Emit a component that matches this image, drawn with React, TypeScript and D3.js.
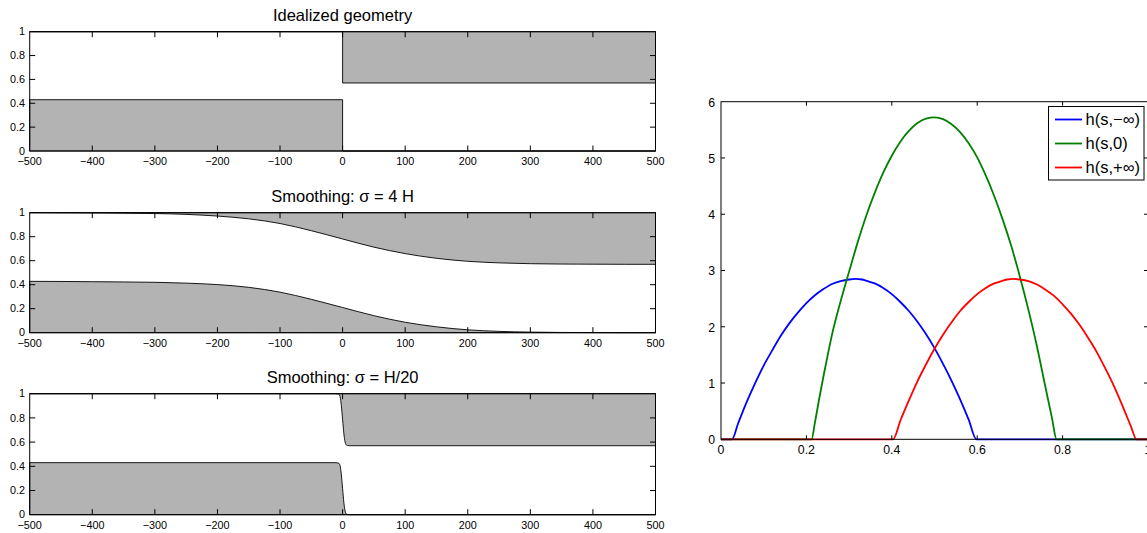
import React from "react";
import * as d3 from "d3";

// ---------- data: left panels (geometry) ----------
const X_TICKS_L = [-500, -400, -300, -200, -100, 0, 100, 200, 300, 400, 500];
const Y_TICKS_L = [0, 0.2, 0.4, 0.6, 0.8, 1];

const IDEAL_X = [-500, 0, 0, 500];
const IDEAL_LOWER = [0.43, 0.43, 0, 0];
const IDEAL_UPPER = [1, 1, 0.57, 0.57];

const S4_X = [-500, -450, -400, -350, -300, -250, -200, -150, -100, -50, 0, 50, 100, 150, 200, 250, 300, 350, 400, 450, 500];
const S4_LOWER = [0.428, 0.427, 0.425, 0.423, 0.42, 0.413, 0.401, 0.378, 0.338, 0.278, 0.21, 0.142, 0.087, 0.049, 0.024, 0.011, 0.005, 0.002, 0.001, 0, 0];
const S4_UPPER = [1.0, 0.999, 0.998, 0.996, 0.993, 0.986, 0.972, 0.949, 0.91, 0.85, 0.781, 0.713, 0.659, 0.62, 0.595, 0.582, 0.575, 0.572, 0.571, 0.57, 0.57];

const S20_X = [-500, -12, -8, -6, -4, -2, 0, 2, 4, 6, 8, 12, 500];
const S20_LOWER = [0.43, 0.43, 0.428, 0.425, 0.405, 0.33, 0.215, 0.1, 0.03, 0.006, 0.002, 0, 0];
const S20_UPPER = [1, 1, 0.998, 0.995, 0.975, 0.9, 0.785, 0.67, 0.6, 0.576, 0.571, 0.57, 0.57];

const PANEL_TITLES = ["Idealized geometry", "Smoothing: σ = 4 H", "Smoothing: σ = H/20"];

// ---------- data: right panel ----------
const X_TICKS_R = [0, 0.2, 0.4, 0.6, 0.8, 1];
const Y_TICKS_R = [0, 1, 2, 3, 4, 5, 6];

const BLUE_S = [0, 0.0257, 0.04, 0.06, 0.08, 0.1, 0.12, 0.14, 0.16, 0.18, 0.2, 0.22, 0.24, 0.26, 0.28, 0.3, 0.315, 0.33, 0.34, 0.36, 0.38, 0.4, 0.42, 0.44, 0.46, 0.48, 0.5, 0.52, 0.54, 0.56, 0.58, 0.598, 1];
const BLUE_H = [0, 0, 0.28, 0.66, 1.0, 1.31, 1.58, 1.84, 2.06, 2.25, 2.42, 2.56, 2.67, 2.76, 2.81, 2.84, 2.85, 2.84, 2.82, 2.77, 2.69, 2.58, 2.44, 2.28, 2.09, 1.87, 1.62, 1.34, 1.04, 0.71, 0.35, 0, 0];

const GREEN_S = [0, 0.212, 0.22, 0.23, 0.24, 0.25, 0.26, 0.28, 0.3, 0.32, 0.34, 0.36, 0.38, 0.4, 0.42, 0.44, 0.46, 0.48, 0.5, 0.52, 0.54, 0.56, 0.58, 0.6, 0.62, 0.64, 0.66, 0.68, 0.7, 0.72, 0.74, 0.76, 0.775, 0.786, 1];
const GREEN_H = [0, 0, 0.3, 0.72, 1.12, 1.5, 1.86, 2.45, 2.98, 3.5, 3.97, 4.38, 4.74, 5.04, 5.29, 5.48, 5.62, 5.7, 5.72, 5.69, 5.6, 5.46, 5.26, 5.01, 4.69, 4.32, 3.9, 3.43, 2.89, 2.3, 1.65, 0.92, 0.38, 0, 0];

const RED_S = [0, 0.403, 0.42, 0.44, 0.46, 0.48, 0.5, 0.52, 0.54, 0.56, 0.58, 0.6, 0.62, 0.64, 0.66, 0.67, 0.685, 0.7, 0.72, 0.74, 0.76, 0.78, 0.8, 0.82, 0.84, 0.86, 0.88, 0.9, 0.92, 0.94, 0.96, 0.973, 1];
const RED_H = [0, 0, 0.33, 0.69, 1.03, 1.33, 1.61, 1.86, 2.08, 2.28, 2.44, 2.58, 2.69, 2.77, 2.82, 2.84, 2.85, 2.84, 2.81, 2.75, 2.66, 2.55, 2.4, 2.23, 2.03, 1.8, 1.55, 1.26, 0.95, 0.6, 0.23, 0, 0];

const LEGEND_LABELS = ["h(s,−∞)", "h(s,0)", "h(s,+∞)"];
const SERIES_COLORS = ["#0000ff", "#008000", "#ff0000"];

const FONT = "'Liberation Sans', Arial, Helvetica, sans-serif";

type Pt = [number, number];
const zip = (a: number[], b: number[]): Pt[] => a.map((v, i) => [v, b[i]]);

function fmtTick(v: number) {
  return v < 0 ? "−" + Math.abs(v) : String(v);
}

function GeometryPanel(props: { top: number; bottom: number; title: string; xs: number[]; lower: number[]; upper: number[]; smooth: boolean }) {
  const { top, bottom, title, xs, lower, upper, smooth } = props;
  const left = 29.7, right = 655.5, tick = 5.5;
  const x = d3.scaleLinear().domain([-500, 500]).range([left, right]);
  const y = d3.scaleLinear().domain([0, 1]).range([bottom, top]);
  const curve = smooth ? d3.curveMonotoneX : d3.curveLinear;
  const lowPts = zip(xs, lower);
  const upPts = zip(xs, upper);
  const lowArea = d3.area<Pt>().x(d => x(d[0])).y0(y(0)).y1(d => y(d[1])).curve(curve);
  const upArea = d3.area<Pt>().x(d => x(d[0])).y0(d => y(d[1])).y1(y(1)).curve(curve);
  const fill = "#b3b3b3";
  const xm = (left + right) / 2;
  return (
    <g>
      <path d={lowArea(lowPts) + "Z"} fill={fill} stroke="#000" strokeWidth={0.9} />
      <path d={upArea(upPts) + "Z"} fill={fill} stroke="#000" strokeWidth={0.9} />
      <rect x={left} y={top} width={right - left} height={bottom - top} fill="none" stroke="#000" strokeWidth={1} />
      {X_TICKS_L.map(v => (
        <g key={"x" + v}>
          {v > -500 && v < 500 && (
            <>
              <line x1={x(v)} x2={x(v)} y1={bottom} y2={bottom - tick} stroke="#000" strokeWidth={1} />
              <line x1={x(v)} x2={x(v)} y1={top} y2={top + tick} stroke="#000" strokeWidth={1} />
            </>
          )}
          <text x={x(v)} y={bottom + 14} fontSize={10.8} textAnchor="middle" fontFamily={FONT} fill="#000">{fmtTick(v)}</text>
        </g>
      ))}
      {Y_TICKS_L.map(v => (
        <g key={"y" + v}>
          {v > 0 && v < 1 && (
            <>
              <line x1={left} x2={left + tick} y1={y(v)} y2={y(v)} stroke="#000" strokeWidth={1} />
              <line x1={right} x2={right - tick} y1={y(v)} y2={y(v)} stroke="#000" strokeWidth={1} />
            </>
          )}
          <text x={25} y={y(v)} dy="0.35em" fontSize={10.8} textAnchor="end" fontFamily={FONT} fill="#000">{v}</text>
        </g>
      ))}
      <text x={xm} y={top - 10.3} fontSize={16.5} textAnchor="middle" fontFamily={FONT} fill="#000">{title}</text>
    </g>
  );
}

function RightPanel() {
  const left = 721, right = 1148, top = 101.7, bottom = 439.3, tick = 4;
  const x = d3.scaleLinear().domain([0, 1]).range([left, right]);
  const y = d3.scaleLinear().domain([0, 6]).range([bottom, top]);
  const line = d3.line<Pt>().x(d => x(d[0])).y(d => y(d[1])).curve(d3.curveMonotoneX);
  const series: Pt[][] = [zip(BLUE_S, BLUE_H), zip(GREEN_S, GREEN_H), zip(RED_S, RED_H)];
  const lg = { x0: 1048.5, y0: 106.5, x1: 1144, y1: 180 };
  const rowY = [119.5, 143.5, 167.5];
  return (
    <g>
      {series.map((pts, i) => (
        <path key={i} d={line(pts) || ""} fill="none" stroke={SERIES_COLORS[i]} strokeWidth={1.8} strokeLinejoin="round" />
      ))}
      <rect x={left} y={top} width={right - left} height={bottom - top} fill="none" stroke="#000" strokeWidth={1} />
      {X_TICKS_R.map(v => (
        <g key={"x" + v}>
          {v > 0 && v < 1 && (
            <>
              <line x1={x(v)} x2={x(v)} y1={bottom} y2={bottom - tick} stroke="#000" strokeWidth={1} />
              <line x1={x(v)} x2={x(v)} y1={top} y2={top + tick} stroke="#000" strokeWidth={1} />
            </>
          )}
          <text x={x(v)} y={bottom + 15} fontSize={12.3} textAnchor="middle" fontFamily={FONT} fill="#000">{v}</text>
        </g>
      ))}
      {Y_TICKS_R.map(v => (
        <g key={"y" + v}>
          {v > 0 && v < 6 && (
            <>
              <line x1={left} x2={left + tick} y1={y(v)} y2={y(v)} stroke="#000" strokeWidth={1} />
              <line x1={right} x2={right - tick} y1={y(v)} y2={y(v)} stroke="#000" strokeWidth={1} />
            </>
          )}
          <text x={715} y={y(v)} dy="0.4em" fontSize={12.3} textAnchor="end" fontFamily={FONT} fill="#000">{v}</text>
        </g>
      ))}
      <rect x={lg.x0} y={lg.y0} width={lg.x1 - lg.x0} height={lg.y1 - lg.y0} fill="#fff" stroke="#000" strokeWidth={1} />
      {LEGEND_LABELS.map((lab, i) => (
        <g key={lab}>
          <line x1={1055} x2={1082} y1={rowY[i]} y2={rowY[i]} stroke={SERIES_COLORS[i]} strokeWidth={1.8} />
          <text x={1085.5} y={rowY[i]} dy="0.36em" fontSize={16.5} fontFamily={FONT} fill="#000">{lab}</text>
        </g>
      ))}
    </g>
  );
}

export default function App() {
  return (
    <svg width={1147} height={533} style={{ position: "absolute", left: 0, top: 0, background: "#fff" }}>
      <rect x={0} y={0} width={1147} height={533} fill="#fff" />
      <GeometryPanel top={31.7} bottom={151} title={PANEL_TITLES[0]} xs={IDEAL_X} lower={IDEAL_LOWER} upper={IDEAL_UPPER} smooth={false} />
      <GeometryPanel top={212.7} bottom={332.7} title={PANEL_TITLES[1]} xs={S4_X} lower={S4_LOWER} upper={S4_UPPER} smooth={true} />
      <GeometryPanel top={393.7} bottom={514.7} title={PANEL_TITLES[2]} xs={S20_X} lower={S20_LOWER} upper={S20_UPPER} smooth={true} />
      <RightPanel />
    </svg>
  );
}
